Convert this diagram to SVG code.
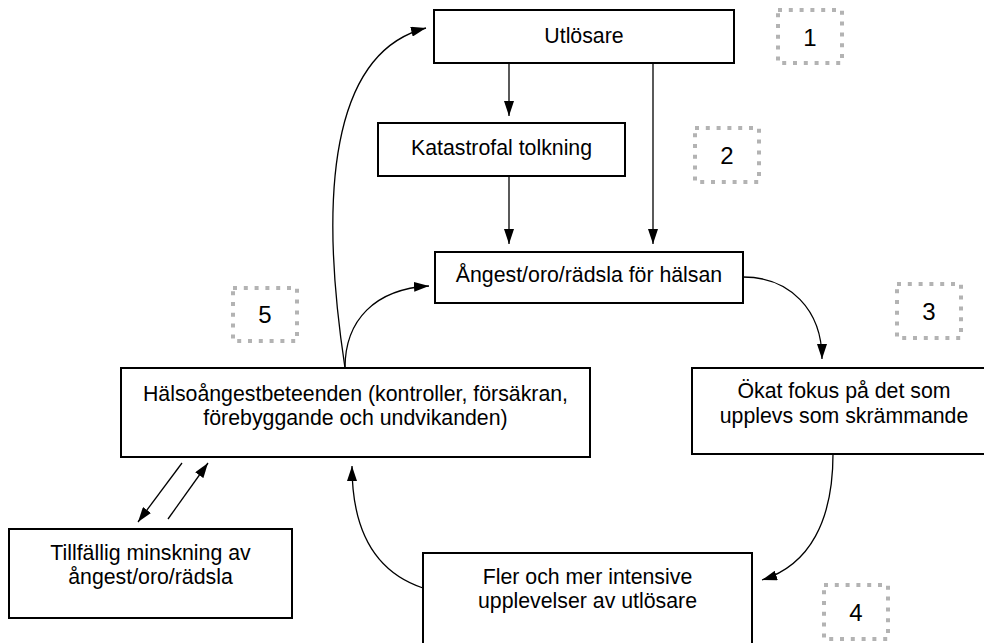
<svg xmlns="http://www.w3.org/2000/svg" width="984" height="643" viewBox="0 0 984 643">
<style>
.box{fill:#fff;stroke:#000;stroke-width:2}
.num{fill:none;stroke:#b3b3b3;stroke-width:4;stroke-dasharray:4 6.8}
text{font-family:"Liberation Sans",Arial,sans-serif;font-size:21.3px;fill:#000;text-anchor:middle}
.n{font-size:24px}
.c{fill:none;stroke:#000;stroke-width:1.3;marker-end:url(#ah)}
</style>
<defs>
<marker id="ah" markerUnits="userSpaceOnUse" viewBox="0 0 15 10" refX="15" refY="5" markerWidth="15" markerHeight="10" orient="auto">
<path d="M0,0 L15,5 L0,10 z" fill="#000"/>
</marker>
</defs>
<rect width="984" height="643" fill="#fff"/>
<g id="connectors">
<line class="c" x1="509" y1="63" x2="509" y2="116"/>
<line class="c" x1="509" y1="176" x2="509" y2="244"/>
<line class="c" x1="653" y1="63" x2="653" y2="244"/>
<path class="c" d="M345,368 C315,170 340,50 426,28"/>
<path class="c" d="M345,368 C345,320 375,289 429,286"/>
<path class="c" d="M743,277 C790,277 822,310 822,359"/>
<path class="c" d="M833,454 C833,520 810,565 762,580"/>
<path class="c" d="M423,588 C375,572 352,530 352,466"/>
<line class="c" x1="182" y1="463" x2="138" y2="522"/>
<line class="c" x1="168" y1="519" x2="208" y2="463"/>
</g>
<g id="n-utlosare"><rect class="box" x="434" y="10" width="300" height="53"/><text x="584" y="43">Utlösare</text></g>
<g id="n-katastrofal"><rect class="box" x="378" y="123" width="247" height="53"/><text x="501.5" y="155">Katastrofal tolkning</text></g>
<g id="n-angest"><rect class="box" x="435" y="252" width="308" height="51"/><text x="589" y="282">Ångest/oro/rädsla för hälsan</text></g>
<g id="n-halso"><rect class="box" x="121" y="368" width="469" height="89"/><text x="355.5" y="401">Hälsoångestbeteenden (kontroller, försäkran,</text><text x="355.5" y="425">förebyggande och undvikanden)</text></g>
<g id="n-okat"><rect class="box" x="692" y="368" width="304" height="86"/><text x="844" y="398">Ökat fokus på det som</text><text x="844" y="423">upplevs som skrämmande</text></g>
<g id="n-tillfallig"><rect class="box" x="9" y="529" width="283" height="89"/><text x="150.5" y="560">Tillfällig minskning av</text><text x="150.5" y="584">ångest/oro/rädsla</text></g>
<g id="n-fler"><rect class="box" x="423" y="553" width="329" height="100"/><text x="587.5" y="584">Fler och mer intensive</text><text x="587.5" y="608">upplevelser av utlösare</text></g>
<g id="num1"><rect class="num" x="778" y="10" width="64" height="53"/><text class="n" x="810" y="46">1</text></g>
<g id="num2"><rect class="num" x="695" y="128" width="64" height="54"/><text class="n" x="727" y="164">2</text></g>
<g id="num3"><rect class="num" x="897" y="284" width="64" height="54"/><text class="n" x="929" y="320">3</text></g>
<g id="num4"><rect class="num" x="824" y="585" width="64" height="54"/><text class="n" x="856" y="621">4</text></g>
<g id="num5"><rect class="num" x="233" y="288" width="64" height="53"/><text class="n" x="265" y="323">5</text></g>
</svg>
